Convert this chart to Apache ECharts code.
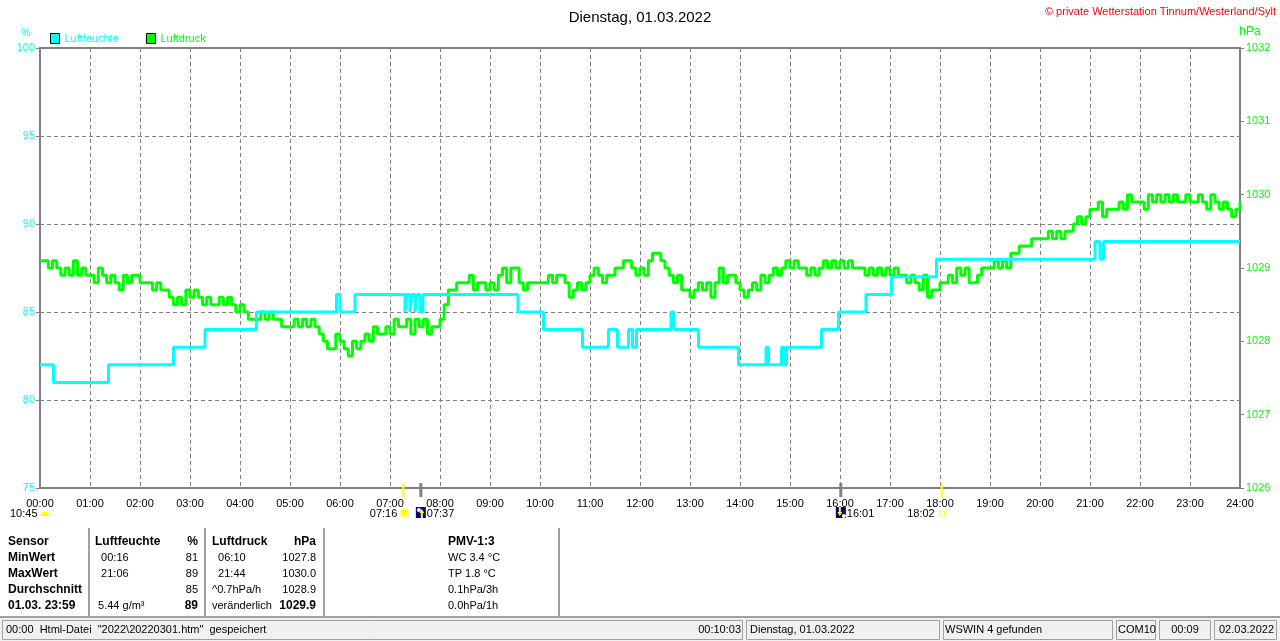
<!DOCTYPE html>
<html><head><meta charset="utf-8">
<script src="https://cdn.jsdelivr.net/npm/echarts/dist/echarts.min.js"></script>
<style>html,body{margin:0;padding:0;background:#fff;overflow:hidden}#c{width:1280px;height:641px}</style>
</head><body><div id="c"></div>
<script>
// ---------- data ----------
const chartTitle = 'Dienstag, 01.03.2022';
const copyright = '© private Wetterstation Tinnum/Westerland/Sylt';
const seriesNames = ['Luftfeuchte', 'Luftdruck'];
// relative humidity, % : [hour, value] (value holds until next point)
const humidity = [
  [0,82],[0.27,81],[1.37,82],[2.67,83],[3.3,84],[4.33,85],[5.93,86],[6.0,85],[6.3,86],
  [7.3,85],[7.34,86],[7.4,85],[7.44,86],[7.5,85],[7.54,86],[7.6,85],[7.66,86],
  [9.56,85],[10.07,84],[10.85,83],[11.37,84],[11.55,83],[11.77,84],[11.85,83],[11.93,84],
  [12.62,85],[12.68,84],[13.17,83],[13.97,82],[14.52,83],[14.57,82],[14.83,83],[14.88,82],
  [14.93,83],[15.63,84],[15.97,85],[16.52,86],[17.03,87],[17.93,88],[21.1,89],[21.2,88],
  [21.27,89],[24,89]
];
// air pressure, hPa, every 5 minutes from 00:00 to 24:00
const pressure = [
  1029.1,1029.1,1029.0,1029.1,1029.0,1028.9,1029.0,1028.9,1029.1,1028.9,1029.0,1028.9,
  1028.9,1028.8,1029.0,1028.9,1028.8,1028.9,1028.8,1028.7,1028.9,1028.8,1028.9,1028.9,
  1028.8,1028.8,1028.8,1028.7,1028.8,1028.7,1028.7,1028.6,1028.5,1028.6,1028.5,1028.7,
  1028.6,1028.7,1028.6,1028.5,1028.6,1028.5,1028.5,1028.6,1028.5,1028.6,1028.5,1028.4,
  1028.5,1028.4,1028.3,1028.3,1028.3,1028.4,1028.3,1028.4,1028.3,1028.3,1028.2,1028.2,
  1028.2,1028.3,1028.2,1028.3,1028.2,1028.3,1028.2,1028.1,1028.0,1027.9,1027.9,1028.1,
  1028.0,1027.9,1027.8,1028.0,1027.9,1028.0,1028.1,1028.0,1028.2,1028.1,1028.1,1028.2,
  1028.1,1028.3,1028.2,1028.2,1028.3,1028.1,1028.3,1028.2,1028.3,1028.1,1028.2,1028.2,
  1028.3,1028.5,1028.7,1028.7,1028.8,1028.8,1028.8,1028.9,1028.7,1028.8,1028.8,1028.7,
  1028.8,1028.7,1028.9,1029.0,1028.8,1029.0,1029.0,1028.8,1028.7,1028.8,1028.8,1028.8,
  1028.8,1028.8,1028.9,1028.8,1028.9,1028.9,1028.8,1028.6,1028.7,1028.8,1028.7,1028.8,
  1028.9,1029.0,1028.9,1028.8,1028.9,1028.9,1029.0,1029.0,1029.1,1029.1,1029.0,1028.9,
  1029.0,1028.9,1029.1,1029.2,1029.2,1029.1,1029.0,1028.9,1028.8,1028.9,1028.7,1028.7,
  1028.6,1028.7,1028.8,1028.7,1028.8,1028.6,1028.8,1029.0,1028.8,1028.9,1028.9,1028.8,
  1028.7,1028.6,1028.7,1028.8,1028.7,1028.9,1028.8,1028.9,1029.0,1028.9,1029.0,1029.1,
  1029.0,1029.1,1029.0,1029.0,1028.9,1029.0,1028.9,1029.0,1029.1,1029.0,1029.1,1029.0,
  1029.1,1029.0,1029.1,1029.0,1029.0,1029.0,1028.9,1029.0,1028.9,1029.0,1028.9,1029.0,
  1028.9,1029.0,1028.9,1028.9,1028.8,1028.9,1028.8,1028.7,1028.9,1028.6,1028.7,1028.7,
  1028.8,1028.8,1028.9,1028.8,1029.0,1028.9,1029.0,1028.8,1028.8,1028.9,1029.0,1029.0,
  1029.0,1029.1,1029.0,1029.1,1029.0,1029.2,1029.2,1029.3,1029.3,1029.3,1029.4,1029.4,
  1029.4,1029.4,1029.5,1029.4,1029.5,1029.4,1029.5,1029.5,1029.6,1029.7,1029.6,1029.7,
  1029.8,1029.8,1029.9,1029.7,1029.8,1029.8,1029.8,1029.9,1029.8,1030.0,1029.9,1029.9,
  1029.9,1029.8,1030.0,1029.9,1030.0,1029.9,1030.0,1029.9,1030.0,1029.9,1029.9,1030.0,
  1029.9,1029.9,1030.0,1029.9,1029.8,1030.0,1029.9,1029.8,1029.9,1029.8,1029.7,1029.8,
  1029.9
];
const humAxis = {min:75, max:100, step:5};
const presAxis = {min:1026, max:1032, step:1};
const hourAxis = {min:0, max:24, step:1};
// sun / moon events below the time axis
const events = [
  {label:'07:16', hour:7+16/60, kind:'sunrise'},
  {label:'07:37', hour:7+37/60, kind:'moonrise'},
  {label:'16:01', hour:16+1/60, kind:'moonset'},
  {label:'18:02', hour:18+2/60, kind:'sunset'}
];
const moonLabel = '10:45';
// statistics table
const tableRows = [
  ['Sensor','Luftfeuchte','%','Luftdruck','hPa','PMV-1:3'],
  ['MinWert','  00:16','81','  06:10','1027.8','WC 3.4 °C'],
  ['MaxWert','  21:06','89','  21:44','1030.0','TP 1.8 °C'],
  ['Durchschnitt','','85','^0.7hPa/h','1028.9','0.1hPa/3h'],
  ['01.03. 23:59',' 5.44 g/m³','89','veränderlich','1029.9','0.0hPa/1h']
];
const statusTexts = ['00:00  Html-Datei  "2022\\20220301.htm"  gespeichert','00:10:03',
  'Dienstag, 01.03.2022','WSWIN 4 gefunden','COM10','00:09','02.03.2022'];

// ---------- chart ----------
const FF = '"Liberation Sans", Arial, sans-serif';
const CYAN = '#00ffff', GREEN = '#00ff00', GRID = '#808080';
const chart = echarts.init(document.getElementById('c'));
const pad2 = n => (n < 10 ? '0' : '') + n;
chart.setOption({
  animation: false,
  backgroundColor: '#ffffff',
  title: {text: chartTitle, left: 'center', top: 5,
    textStyle: {fontSize: 15, fontWeight: 'normal', color: '#000', fontFamily: FF}},
  legend: {left: 50, top: 33, padding: 0, itemWidth: 9, itemHeight: 10, itemGap: 27, icon: 'rect',
    selectedMode: false,
    itemStyle: {borderColor: '#000', borderWidth: 1},
    textStyle: {fontSize: 11, fontFamily: FF},
    data: [{name: seriesNames[0], textStyle: {color: CYAN}}, {name: seriesNames[1], textStyle: {color: GREEN}}]},
  grid: {left: 40, right: 40, top: 48, bottom: 153, show: true, borderColor: GRID, borderWidth: 2, containLabel: false},
  xAxis: {type: 'value', min: hourAxis.min, max: hourAxis.max, interval: hourAxis.step,
    axisLine: {lineStyle: {color: GRID, width: 2}}, axisTick: {show: false},
    axisLabel: {color: '#000', fontSize: 11, fontFamily: FF, margin: 10, formatter: v => pad2(v) + ':00'},
    splitLine: {show: true, lineStyle: {color: GRID, width: 1, type: [4, 3]}}},
  yAxis: [
    {type: 'value', position: 'left', min: humAxis.min, max: humAxis.max, interval: humAxis.step,
      axisLine: {show: true, lineStyle: {color: GRID, width: 2}},
      axisTick: {show: true, length: 4, lineStyle: {color: GRID}},
      axisLabel: {color: CYAN, fontSize: 11, fontFamily: FF, margin: 5, formatter: v => String(v)},
      splitLine: {show: true, lineStyle: {color: GRID, width: 1, type: [4, 3]}}},
    {type: 'value', position: 'right', min: presAxis.min, max: presAxis.max, interval: presAxis.step,
      axisLine: {show: true, lineStyle: {color: GRID, width: 2}},
      axisTick: {show: true, length: 4, lineStyle: {color: GRID}},
      axisLabel: {color: GREEN, fontSize: 11, fontFamily: FF, margin: 6, formatter: v => String(v)},
      splitLine: {show: false}}
  ],
  series: [
    {name: seriesNames[1], type: 'line', yAxisIndex: 1, step: 'end', showSymbol: false, symbol: 'none',
      color: GREEN, lineStyle: {color: GREEN, width: 3}, z: 2,
      data: pressure.map((v, i) => [i / 12, v])},
    {name: seriesNames[0], type: 'line', yAxisIndex: 0, step: 'end', showSymbol: false, symbol: 'none',
      color: CYAN, lineStyle: {color: CYAN, width: 3}, z: 3,
      data: humidity}
  ]
});

// ---------- overlay graphics ----------
const els = [];
function txt(x, y, s, opt) {
  opt = opt || {};
  els.push({type: 'text', silent: true, z: 50, style: {
    text: s, x: x, y: y, fill: opt.color || '#000',
    font: (opt.bold ? 'bold ' : '') + (opt.size || 11) + 'px ' + FF,
    align: opt.align || 'left', textAlign: opt.align || 'left',
    verticalAlign: 'middle', textVerticalAlign: 'middle'}});
}
// header texts
txt(1276, 12, copyright, {color: '#ff0000', align: 'right', size: 11});
txt(26, 33, '%', {color: CYAN, align: 'center'});
txt(1250, 32, 'hPa', {color: GREEN, align: 'center', size: 12});

// events
const evY = 514;
events.forEach(ev => {
  const px = chart.convertToPixel({xAxisIndex: 0}, ev.hour);
  const isSun = ev.kind.indexOf('sun') === 0;
  els.push({type: 'line', silent: true, z: 40, shape: {x1: px, y1: 483, x2: px, y2: 497},
    style: {stroke: isSun ? '#ffff00' : '#808080', lineWidth: isSun ? 2 : 3}});
  if (ev.kind === 'sunrise') {
    els.push({type: 'circle', silent: true, z: 40, shape: {cx: px + 1, cy: evY - 1, r: 5.5}, style: {fill: '#ffffb0'}});
    els.push({type: 'circle', silent: true, z: 41, shape: {cx: px + 1, cy: evY - 1, r: 3.5}, style: {fill: '#ffff00'}});
    txt(px - 6, evY, ev.label, {align: 'right'});
  } else if (ev.kind === 'sunset') {
    els.push({type: 'rect', silent: true, z: 40, shape: {x: px - 2, y: evY - 3, width: 5, height: 5},
      style: {fill: 'none', stroke: '#ffff00', lineWidth: 1}});
    txt(px - 7, evY, ev.label, {align: 'right'});
  } else {
    const bx = px - 5;
    els.push({type: 'rect', silent: true, z: 40, shape: {x: bx, y: 507, width: 10, height: 11}, style: {fill: '#000080'}});
    if (ev.kind === 'moonrise') {
      els.push({type: 'circle', silent: true, z: 41, shape: {cx: bx + 3, cy: 510, r: 2}, style: {fill: '#ffffff'}});
      els.push({type: 'polyline', silent: true, z: 41, shape: {points: [[bx + 6, 518], [bx + 6, 511]]}, style: {stroke: '#ffff00', lineWidth: 2}});
      els.push({type: 'polygon', silent: true, z: 41, shape: {points: [[bx + 3.5, 513], [bx + 6, 509], [bx + 8.5, 513]]}, style: {fill: '#ffff00'}});
    } else {
      els.push({type: 'circle', silent: true, z: 41, shape: {cx: bx + 8, cy: 516, r: 2}, style: {fill: '#ffffff'}});
      els.push({type: 'polyline', silent: true, z: 41, shape: {points: [[bx + 4, 507], [bx + 4, 513]]}, style: {stroke: '#ffff00', lineWidth: 2}});
      els.push({type: 'polygon', silent: true, z: 41, shape: {points: [[bx + 1.5, 512], [bx + 4, 516], [bx + 6.5, 512]]}, style: {fill: '#ffff00'}});
    }
    txt(px + 6, evY, ev.label, {align: 'left'});
  }
});
// moon phase at left
txt(10, evY, moonLabel, {align: 'left'});
els.push({type: 'sector', silent: true, z: 40, shape: {cx: 45, cy: 516, r0: 0, r: 4.5, startAngle: Math.PI, endAngle: 2 * Math.PI},
  style: {fill: '#ffff00'}});

// statistics table
const colX = [8, 95, 198, 212, 316, 448];
const colAlign = ['left', 'left', 'right', 'left', 'right', 'left'];
const rowY = [542, 558, 574, 590, 606];
tableRows.forEach((row, r) => {
  row.forEach((cell, c) => {
    if (!cell) return;
    const bold = r === 0 || c === 0 || (r === 4 && (c === 2 || c === 4));
    txt(colX[c], rowY[r], cell, {align: colAlign[c], bold: bold, size: bold ? 12 : 11});
  });
});
[89, 205, 324, 559].forEach(x => {
  els.push({type: 'line', silent: true, z: 30, shape: {x1: x, y1: 528, x2: x, y2: 617}, style: {stroke: '#a0a0a0', lineWidth: 2}});
});

// status bar
els.push({type: 'rect', silent: true, z: 20, shape: {x: 0, y: 617, width: 1280, height: 24}, style: {fill: '#f0f0f0'}});
els.push({type: 'line', silent: true, z: 21, shape: {x1: 0, y1: 617, x2: 1280, y2: 617}, style: {stroke: '#a0a0a0', lineWidth: 2}});
[[2, 743], [746, 940], [943, 1113], [1116, 1156], [1159, 1211], [1214, 1277]].forEach(p => {
  els.push({type: 'rect', silent: true, z: 22, shape: {x: p[0] + 0.5, y: 620.5, width: p[1] - p[0] - 1, height: 19},
    style: {fill: '#f0f0f0', stroke: '#a0a0a0', lineWidth: 1}});
});
const sY = 630;
txt(6, sY, statusTexts[0]);
txt(741, sY, statusTexts[1], {align: 'right'});
txt(750, sY, statusTexts[2]); txt(945, sY, statusTexts[3]); txt(1118, sY, statusTexts[4]);
txt(1185, sY, statusTexts[5], {align: 'center'}); txt(1219, sY, statusTexts[6]);

chart.setOption({graphic: {elements: els}});
</script></body></html>
